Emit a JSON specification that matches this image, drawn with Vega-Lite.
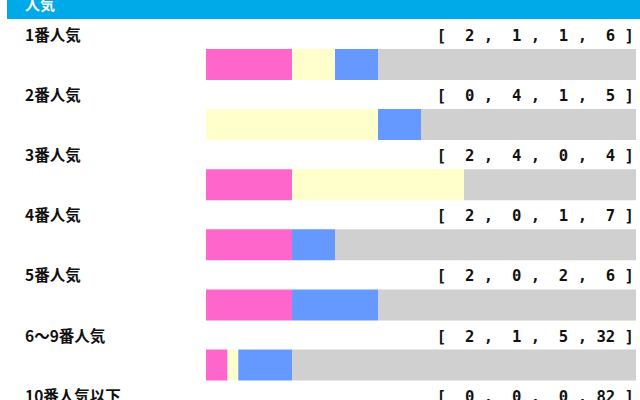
{
  "$schema": "https://vega.github.io/schema/vega-lite/v6.json",
  "width": 640,
  "height": 400,
  "autosize": {"type": "none"},
  "padding": 0,
  "background": "#ffffff",
  "config": {"view": {"stroke": null}, "scale": {"continuousPadding": 0}},
  "data": {
    "values": [
      {"row": 1, "label": "1番人気", "counts": "[\u00a0\u00a02\u00a0,\u00a0\u00a01\u00a0,\u00a0\u00a01\u00a0,\u00a0\u00a06\u00a0]", "1着": 2, "2着": 1, "3着": 1, "着外": 6},
      {"row": 2, "label": "2番人気", "counts": "[\u00a0\u00a00\u00a0,\u00a0\u00a04\u00a0,\u00a0\u00a01\u00a0,\u00a0\u00a05\u00a0]", "1着": 0, "2着": 4, "3着": 1, "着外": 5},
      {"row": 3, "label": "3番人気", "counts": "[\u00a0\u00a02\u00a0,\u00a0\u00a04\u00a0,\u00a0\u00a00\u00a0,\u00a0\u00a04\u00a0]", "1着": 2, "2着": 4, "3着": 0, "着外": 4},
      {"row": 4, "label": "4番人気", "counts": "[\u00a0\u00a02\u00a0,\u00a0\u00a00\u00a0,\u00a0\u00a01\u00a0,\u00a0\u00a07\u00a0]", "1着": 2, "2着": 0, "3着": 1, "着外": 7},
      {"row": 5, "label": "5番人気", "counts": "[\u00a0\u00a02\u00a0,\u00a0\u00a00\u00a0,\u00a0\u00a02\u00a0,\u00a0\u00a06\u00a0]", "1着": 2, "2着": 0, "3着": 2, "着外": 6},
      {"row": 6, "label": "6～9番人気", "counts": "[\u00a0\u00a02\u00a0,\u00a0\u00a01\u00a0,\u00a0\u00a05\u00a0,\u00a032\u00a0]", "1着": 2, "2着": 1, "3着": 5, "着外": 32},
      {"row": 7, "label": "10番人気以下", "counts": "[\u00a0\u00a00\u00a0,\u00a0\u00a00\u00a0,\u00a0\u00a00\u00a0,\u00a082\u00a0]", "1着": 0, "2着": 0, "3着": 0, "着外": 82}
    ]
  },
  "layer": [
    {
      "data": {"values": [{"title": "人気"}]},
      "mark": {"type": "rect", "color": "#00a9e8"},
      "encoding": {
        "x": {"datum": -0.4628, "type": "quantitative", "scale": {"domain": [-0.4791, 1.0093], "nice": false, "zero": false}, "axis": null},
        "x2": {"datum": 1.0093},
        "y": {"datum": -0.0732, "type": "quantitative", "scale": {"domain": [-0.0732, 6.582], "reverse": true, "nice": false, "zero": false}, "axis": null},
        "y2": {"datum": 0.2429}
      }
    },
    {
      "data": {"values": [{"title": "人気"}]},
      "mark": {"type": "text", "align": "left", "baseline": "middle", "color": "#ffffff", "font": "Noto Sans CJK JP", "fontWeight": "bold", "fontSize": 15, "dy": 1},
      "encoding": {
        "x": {"datum": -0.4209, "type": "quantitative"},
        "y": {"datum": 0, "type": "quantitative"},
        "text": {"field": "title"}
      }
    },
    {
      "transform": [{"fold": ["1着", "2着", "3着", "着外"], "as": ["result", "n"]}],
      "mark": {"type": "bar", "orient": "horizontal", "size": 31},
      "encoding": {
        "x": {"field": "n", "type": "quantitative", "stack": "normalize"},
        "y": {"field": "row", "type": "quantitative", "scale": {"domain": [-0.0732, 6.582], "reverse": true, "nice": false, "zero": false}},
        "color": {
          "field": "result",
          "type": "nominal",
          "scale": {"domain": ["1着", "2着", "3着", "着外"], "range": ["#ff66cc", "#ffffcc", "#6699ff", "#d0d0d0"]},
          "legend": null
        }
      }
    },
    {
      "mark": {"type": "text", "align": "left", "baseline": "middle", "font": "Noto Sans CJK JP", "fontWeight": "bold", "fontSize": 15.5, "color": "#111111", "dy": -28.5},
      "encoding": {
        "x": {"datum": -0.4209, "type": "quantitative"},
        "y": {"field": "row", "type": "quantitative", "scale": {"domain": [-0.0732, 6.582], "reverse": true, "nice": false, "zero": false}},
        "text": {"field": "label"}
      }
    },
    {
      "mark": {"type": "text", "align": "right", "baseline": "middle", "font": "DejaVu Sans Mono", "fontWeight": "bold", "fontSize": 15.6, "color": "#111111", "dy": -28.5},
      "encoding": {
        "x": {"datum": 0.9953, "type": "quantitative"},
        "y": {"field": "row", "type": "quantitative", "scale": {"domain": [-0.0732, 6.582], "reverse": true, "nice": false, "zero": false}},
        "text": {"field": "counts"}
      }
    }
  ]
}
